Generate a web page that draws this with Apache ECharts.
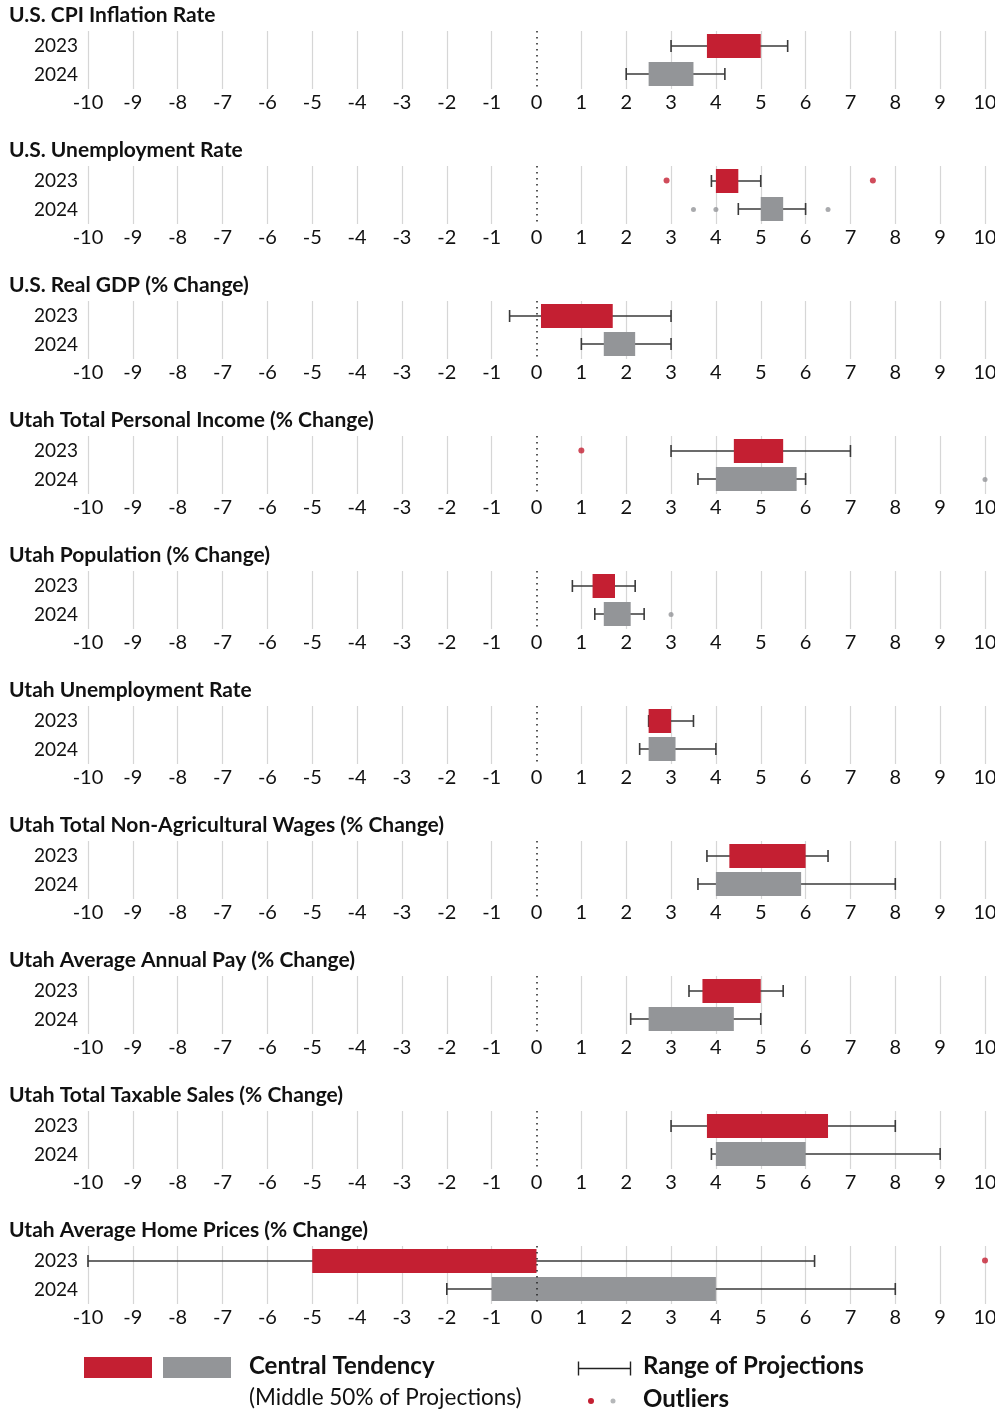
<!DOCTYPE html>
<html>
<head>
<meta charset="utf-8">
<script src="https://cdn.jsdelivr.net/npm/echarts@6/dist/echarts.min.js"></script>
<style>
  html, body { margin: 0; padding: 0; background: #fff; }
  #chart { width: 995px; height: 1410px; }
</style>
</head>
<body>
<div id="chart"></div>
<script>
const titles = [
  'U.S. CPI Inflation Rate',
  'U.S. Unemployment Rate',
  'U.S. Real GDP (% Change)',
  'Utah Total Personal Income (% Change)',
  'Utah Population (% Change)',
  'Utah Unemployment Rate',
  'Utah Total Non-Agricultural Wages (% Change)',
  'Utah Average Annual Pay (% Change)',
  'Utah Total Taxable Sales (% Change)',
  'Utah Average Home Prices (% Change)'
];
const years = ['2023', '2024'];

// range of projections and middle 50% per panel
const low2023 = [3, 3.9, -0.6, 3, 0.8, 2.5, 3.8, 3.4, 3, -10];
const q1_2023 = [3.8, 4, 0.1, 4.4, 1.25, 2.5, 4.3, 3.7, 3.8, -5];
const q3_2023 = [5, 4.5, 1.7, 5.5, 1.75, 3, 6, 5, 6.5, 0];
const high2023 = [5.6, 5, 3, 7, 2.2, 3.5, 6.5, 5.5, 8, 6.2];

const low2024 = [2, 4.5, 1, 3.6, 1.3, 2.3, 3.6, 2.1, 3.9, -2];
const q1_2024 = [2.5, 5, 1.5, 4, 1.5, 2.5, 4, 2.5, 4, -1];
const q3_2024 = [3.5, 5.5, 2.2, 5.8, 2.1, 3.1, 5.9, 4.4, 6, 4];
const high2024 = [4.2, 6, 3, 6, 2.4, 4, 8, 5, 9, 8];

const outliers2023 = [[], [2.9, 7.5], [], [1], [], [], [], [], [], [10]];
const outliers2024 = [[], [3.5, 4, 6.5], [], [10], [3], [], [], [], [], []];

const xMin = -10, xMax = 10, xStep = 1;

const RED = '#c41f32';
const GRAY = '#939598';
const FONT = 'Lato';
const PITCH = 135;

const chart = echarts.init(document.getElementById('chart'));

// hide the regular gridline at 0, a dotted line goes there instead
const gridColors = [];
for (let v = xMin; v <= xMax; v += xStep) {
  gridColors.push(v === 0 ? 'rgba(0,0,0,0)' : '#d6d6d6');
}

const grids = [], xAxes = [], yAxes = [], series = [], titleList = [];

titles.forEach((t, i) => {
  titleList.push({
    text: t, left: 4, top: 0 + PITCH * i,
    textStyle: { fontFamily: FONT, fontSize: 21, fontWeight: 'bold', color: '#111' }
  });
  grids.push({ left: 88, right: 10, top: 31 + PITCH * i, height: 58, outerBoundsMode: 'none' });
  xAxes.push({
    type: 'value', gridIndex: i, min: xMin, max: xMax, interval: xStep,
    axisLine: { show: false }, axisTick: { show: false },
    axisLabel: { fontFamily: FONT, fontSize: 20, color: '#111', margin: 4 },
    splitLine: { show: true, lineStyle: { color: gridColors, width: 1.2 } }
  });
  yAxes.push({
    type: 'category', gridIndex: i, data: years, inverse: true,
    axisLine: { show: false }, axisTick: { show: false },
    axisLabel: { fontFamily: FONT, fontSize: 19, color: '#111', margin: 10 }
  });

  series.push({
    type: 'custom', xAxisIndex: i, yAxisIndex: i,
    encode: { x: [1, 2, 3, 4], y: 0 },
    data: [
      [0, low2023[i], q1_2023[i], q3_2023[i], high2023[i]],
      [1, low2024[i], q1_2024[i], q3_2024[i], high2024[i]]
    ],
    renderItem: (params, api) => {
      const row = api.value(0);
      const pLow = api.coord([api.value(1), row]);
      const pQ1 = api.coord([api.value(2), row]);
      const pQ3 = api.coord([api.value(3), row]);
      const pHigh = api.coord([api.value(4), row]);
      const y = pLow[1] + (row === 0 ? 0.5 : -0.5);
      const line = { stroke: '#3a3a3a', lineWidth: 1.6 };
      return {
        type: 'group',
        children: [
          { type: 'line', shape: { x1: pLow[0], y1: y, x2: pHigh[0], y2: y }, style: line },
          { type: 'line', shape: { x1: pLow[0], y1: y - 6, x2: pLow[0], y2: y + 6 }, style: line },
          { type: 'line', shape: { x1: pHigh[0], y1: y - 6, x2: pHigh[0], y2: y + 6 }, style: line },
          {
            type: 'rect',
            shape: { x: pQ1[0], y: y - 12, width: pQ3[0] - pQ1[0], height: 24 },
            style: { fill: row === 0 ? RED : GRAY }
          }
        ]
      };
    },
    markLine: {
      silent: true, symbol: 'none', label: { show: false },
      lineStyle: { color: '#222', type: [1.5, 4.5], width: 1.5 },
      data: [{ xAxis: 0 }]
    },
    z: 3
  });

  const pts = [];
  outliers2023[i].forEach(v => pts.push({ value: [v, 0], symbolSize: 6, itemStyle: { color: RED } }));
  outliers2024[i].forEach(v => pts.push({ value: [v, 1], symbolSize: 5, itemStyle: { color: GRAY } }));
  series.push({
    type: 'scatter', xAxisIndex: i, yAxisIndex: i, data: pts,
    symbol: 'circle', clip: false, z: 4
  });
});

const legendText = { fontFamily: FONT, fontSize: 24, fontWeight: 'bold', fill: '#111' };

const option = {
  animation: false,
  title: titleList,
  grid: grids,
  xAxis: xAxes,
  yAxis: yAxes,
  series: series,
  graphic: [
    { type: 'rect', left: 84, top: 1357, shape: { width: 68, height: 21 }, style: { fill: RED } },
    { type: 'rect', left: 163, top: 1357, shape: { width: 68, height: 21 }, style: { fill: GRAY } },
    { type: 'text', left: 249, top: 1354, style: Object.assign({ text: 'Central Tendency' }, legendText) },
    { type: 'text', left: 249, top: 1386, style: { text: '(Middle 50% of Projections)', fontFamily: FONT, fontSize: 22.5, fill: '#111' } },
    {
      type: 'group', left: 576, top: 1359,
      children: [
        { type: 'line', shape: { x1: 0, y1: 7, x2: 52, y2: 7 }, style: { stroke: '#222', lineWidth: 1.4 } },
        { type: 'line', shape: { x1: 0, y1: 0, x2: 0, y2: 14 }, style: { stroke: '#222', lineWidth: 1.4 } },
        { type: 'line', shape: { x1: 52, y1: 0, x2: 52, y2: 14 }, style: { stroke: '#222', lineWidth: 1.4 } }
      ]
    },
    { type: 'text', left: 643, top: 1354, style: Object.assign({ text: 'Range of Projections' }, legendText) },
    { type: 'circle', shape: { cx: 591, cy: 1401, r: 3 }, style: { fill: RED } },
    { type: 'circle', shape: { cx: 613, cy: 1401, r: 2.5 }, style: { fill: '#b5b7b9' } },
    { type: 'text', left: 643, top: 1387, style: Object.assign({ text: 'Outliers' }, legendText) }
  ]
};

chart.setOption(option);
</script>
</body>
</html>
